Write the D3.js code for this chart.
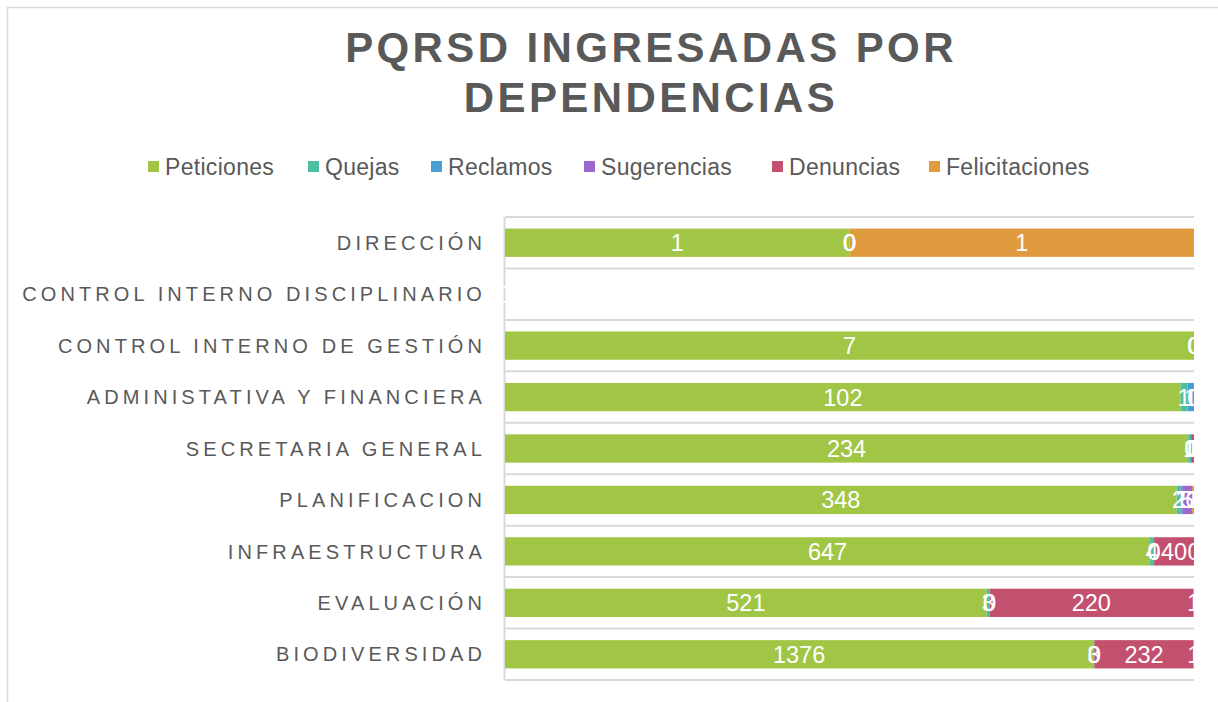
<!DOCTYPE html>
<html><head><meta charset="utf-8">
<script src="https://cdn.jsdelivr.net/npm/d3@7"></script>
<style>
html,body{margin:0;padding:0;background:#fff;}
svg text{font-family:"Liberation Sans",Arial,sans-serif;}
</style></head>
<body>
<svg id="chart" width="1218" height="702"></svg>
<script>
const title = ["PQRSD INGRESADAS POR", "DEPENDENCIAS"];
const categories = ["DIRECCIÓN","CONTROL INTERNO DISCIPLINARIO","CONTROL INTERNO DE GESTIÓN","ADMINISTATIVA Y FINANCIERA","SECRETARIA GENERAL","PLANIFICACION","INFRAESTRUCTURA","EVALUACIÓN","BIODIVERSIDAD"];
const seriesNames = ["Peticiones","Quejas","Reclamos","Sugerencias","Denuncias","Felicitaciones"];
const seriesColors = ["#a1c645","#4cbea2","#4a9ed2","#9b68cc","#c4506f","#df9b3e"];
const peticiones     = [1, 0, 7, 102, 234, 348, 647, 521, 1376];
const quejas         = [0, 0, 0, 1, 1, 2, 4, 3, 3];
const reclamos       = [0, 0, 0, 1, 0, 1, 0, 0, 0];
const sugerencias    = [0, 0, 0, 0, 0, 5, 0, 0, 0];
const denuncias      = [0, 0, 0, 0, 1, 0, 40, 220, 232];
const felicitaciones = [1, 0, 0, 0, 0, 1, 0, 1, 1];

const seriesValues = [peticiones, quejas, reclamos, sugerencias, denuncias, felicitaciones];
const rows = categories.map((c, i) => {
  const o = {cat: c};
  seriesNames.forEach((s, j) => o[s] = seriesValues[j][i]);
  return o;
});

const svg = d3.select("#chart");
const W = 1218, H = 702;
const plot = {left: 505, right: 1194, top: 217, bottom: 680};

// outer frame
svg.append("rect").attr("x", 7.5).attr("y", 7.5).attr("width", W).attr("height", H)
  .attr("fill", "none").attr("stroke", "#d9d9d9").attr("stroke-width", 1.5);

// title
svg.append("g").selectAll("text").data(title).join("text")
  .attr("x", 651).attr("y", (d, i) => 62 + i * 50)
  .attr("text-anchor", "middle")
  .attr("font-size", 42).attr("font-weight", "bold")
  .attr("letter-spacing", 3.4)
  .attr("fill", "#595959").text(d => d);

// legend
const legendX = [148, 308, 431, 584, 772, 929];
const lg = svg.append("g").selectAll("g").data(seriesNames).join("g")
  .attr("transform", (d, i) => `translate(${legendX[i]},0)`);
lg.append("rect").attr("x", 0).attr("y", 161).attr("width", 11).attr("height", 11)
  .attr("fill", (d, i) => seriesColors[i]);
lg.append("text").attr("x", 17).attr("y", 175).attr("font-size", 23)
  .attr("letter-spacing", 0.3).attr("fill", "#595959").text(d => d);

// scales
const x = d3.scaleLinear().domain([0, 1]).range([plot.left, plot.right]);
const y = d3.scaleBand().domain(categories).range([plot.top, plot.bottom])
  .paddingInner(0.45).paddingOuter(0.225);

// gridlines at category boundaries
const step = y.step();
const gridYs = d3.range(categories.length + 1).map(i => plot.top + i * step);
svg.append("g").selectAll("line").data(gridYs).join("line")
  .attr("x1", plot.left).attr("x2", plot.right)
  .attr("y1", d => d).attr("y2", d => d)
  .attr("stroke", "#d9d9d9").attr("stroke-width", 2);
svg.append("line").attr("x1", plot.left - 0.5).attr("x2", plot.left - 0.5)
  .attr("y1", plot.top).attr("y2", plot.bottom)
  .attr("stroke", "#d9d9d9").attr("stroke-width", 2);

// category labels
svg.append("g").selectAll("text").data(categories).join("text")
  .attr("x", 486).attr("y", d => y(d) + y.bandwidth() / 2)
  .attr("dy", "0.36em").attr("text-anchor", "end")
  .attr("font-size", 20).attr("letter-spacing", 4.1)
  .attr("fill", "#595959").text(d => d);

// stacked 100%
const stack = d3.stack().keys(seriesNames).offset(d3.stackOffsetExpand);
const stacked = stack(rows);

svg.append("defs").append("clipPath").attr("id", "plotclip")
  .append("rect").attr("x", 0).attr("y", 0).attr("width", plot.right + 1).attr("height", H);

const bars = svg.append("g").attr("clip-path", "url(#plotclip)");
stacked.forEach((layer, j) => {
  bars.append("g").attr("fill", seriesColors[j]).selectAll("rect")
    .data(layer.filter(d => !isNaN(d[0]) && !isNaN(d[1])))
    .join("rect")
    .attr("x", d => x(d[0])).attr("width", d => Math.max(0, x(d[1]) - x(d[0])))
    .attr("y", d => y(d.data.cat)).attr("height", y.bandwidth());
});

// data labels
const labels = svg.append("g").attr("clip-path", "url(#plotclip)");
stacked.forEach((layer, j) => {
  labels.append("g").selectAll("text").data(layer).join("text")
    .attr("x", d => {
      const a = isNaN(d[0]) ? 0 : d[0], b = isNaN(d[1]) ? 0 : d[1];
      return x((a + b) / 2);
    })
    .attr("y", d => y(d.data.cat) + y.bandwidth() / 2)
    .attr("dy", "0.36em").attr("text-anchor", "middle")
    .attr("font-size", 23.5).attr("fill", "#ffffff")
    .text(d => d.data[layer.key]);
});
</script>
</body></html>
